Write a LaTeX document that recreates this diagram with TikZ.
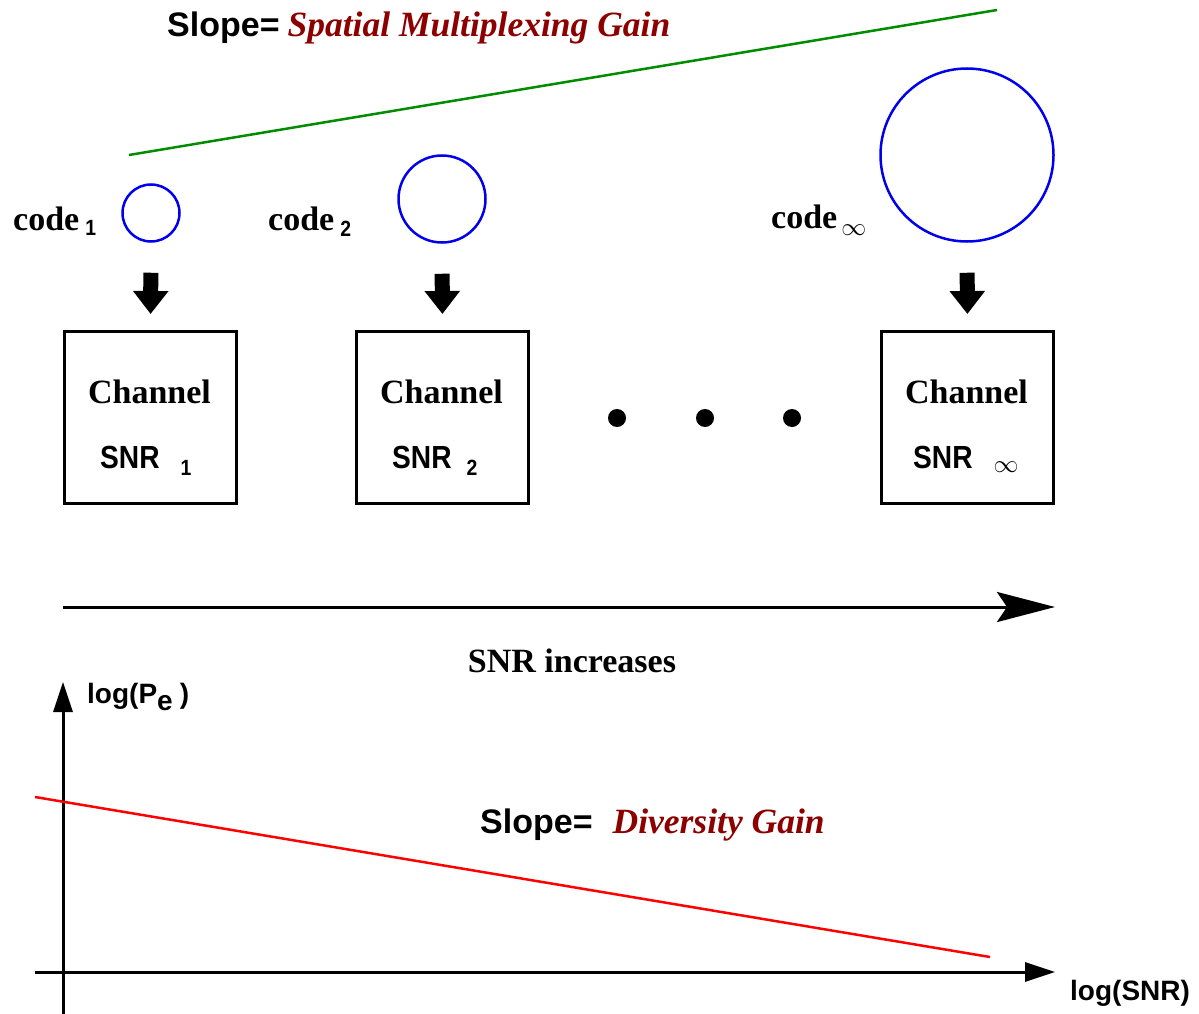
\documentclass[tikz,border=0pt]{standalone}
\usepackage{fontspec}
\setmainfont{Liberation Serif}
\setsansfont{Liberation Sans}
\usepackage{tikz}
\usetikzlibrary{
  positioning,
  arrows.meta,
  calc
}
\usepackage{xcolor}
\definecolor{gain}{RGB}{140,0,0}
\definecolor{codeblue}{RGB}{0,0,235}
\definecolor{slopegreen}{RGB}{0,140,0}
\definecolor{pelow}{RGB}{255,0,0}
\newcommand{\bigrm}{\fontsize{34}{40}\selectfont\rmfamily\bfseries}
\newcommand{\bigit}{\fontsize{35.5}{40}\selectfont\rmfamily\bfseries\itshape\color{gain}}
\newcommand{\bigsf}{\fontsize{34}{40}\selectfont\sffamily\bfseries}
\newcommand{\midsf}{\fontsize{28}{34}\selectfont\sffamily\bfseries}
\newcommand{\snrsf}{\fontsize{32}{38}\selectfont\sffamily\bfseries}
\newcommand{\subsf}{\fontsize{22}{26}\selectfont\sffamily\bfseries}
\newcommand{\infsym}{\fontsize{30}{34}\selectfont$\infty$}
\newcommand{\narrow}[1]{\scalebox{0.88}[1]{#1}}

\begin{document}
\begin{tikzpicture}[
  x=1pt, y=-1pt,
  txt/.style={inner sep=0pt, anchor=base west},
  codecirc/.style={draw=codeblue, line width=2.5pt, circle, inner sep=0pt},
  chanbox/.style={draw, line width=3pt, minimum width=172pt, minimum height=172pt,
                  inner sep=0pt},
  feed/.style={line width=15pt, -{Triangle[length=23pt,width=34pt]},
               shorten <=30pt, shorten >=16pt},
  axisline/.style={line width=3pt, -{Triangle[length=30pt,width=19pt]}},
  dot/.style={circle, fill, minimum size=18pt, inner sep=0pt}
]
  \useasboundingbox (0,0) rectangle (1199,1014);

  % Multiplexing slope
  \coordinate (g0) at (129,155);
  \coordinate (g1) at (997,10);
  \draw[slopegreen, line width=2.5pt] (g0) -- (g1);
  \node[txt, font=\bigsf] (mux) at (167,37)
    {Slope=\hspace{8pt}{\bigit Spatial Multiplexing Gain}};

  % Codes
  \node[codecirc, minimum size=57pt] (c1) at (151,213) {};
  \node[codecirc, minimum size=87pt] (c2) at (442,199) {};
  \node[codecirc, minimum size=173pt] (c3) at (967,155) {};
  \node[txt, font=\bigrm] (l1) at (13,230) {code\hspace{6pt}\raisebox{-5pt}{\subsf\narrow{1}}};
  \node[txt, font=\bigrm] (l2) at (268,230) {code\hspace{6pt}\raisebox{-6pt}{\subsf\narrow{2}}};
  \node[txt, font=\bigrm] (l3) at (771,228) {code\hspace{4pt}\raisebox{-7pt}{\infsym}};

  % Channel boxes
  \node[chanbox] (b1) at (150.5,417.5) {};
  \node[chanbox] (b2) at (442.5,417.5) {};
  \node[chanbox] (b3) at (967.5,417.5) {};
  \node[inner sep=0pt, anchor=base, font=\bigrm] (ch1) at ($(b1.center)+(-1,-14.5)$) {Channel};
  \node[inner sep=0pt, anchor=base, font=\bigrm] (ch2) at ($(b2.center)+(-1,-14.5)$) {Channel};
  \node[inner sep=0pt, anchor=base, font=\bigrm] (ch3) at ($(b3.center)+(-1,-14.5)$) {Channel};
  \node[txt, font=\snrsf] (s1) at ($(b1.center)+(-50.5,50.5)$)
    {\narrow{SNR}\hspace{21pt}\raisebox{-7pt}{\subsf\narrow{1}}};
  \node[txt, font=\snrsf] (s2) at ($(b2.center)+(-50.5,50.5)$)
    {\narrow{SNR}\hspace{15pt}\raisebox{-7pt}{\subsf\narrow{2}}};
  \node[txt, font=\snrsf] (s3) at ($(b3.center)+(-54.5,50.5)$)
    {\narrow{SNR}\hspace{21pt}\raisebox{-4pt}{\infsym}};

  \draw[feed] (c1.south) -- (b1.north);
  \draw[feed] (c2.south) -- (b2.north);
  \draw[feed] (c3.south) -- (b3.north);

  % Dots
  \node[dot] (d1) at (617,418) {};
  \node[dot] (d2) at (705,418) {};
  \node[dot] (d3) at (792,418) {};

  % SNR increases
  \coordinate (snrL) at (63,607);
  \coordinate (snrR) at (1055,607);
  \draw[line width=3pt, -{Stealth[length=58pt,width=30pt,inset=10pt]}] (snrL) -- (snrR);
  \node[inner sep=0pt, anchor=base, font=\bigrm] (incr) at (572,672) {SNR increases};

  % Error probability plot
  \coordinate (ybot) at (63,1014);
  \coordinate (ytop) at (63,682);
  \coordinate (xleft) at (35,972);
  \coordinate (xright) at (1055,972);
  \draw[axisline] (ybot) -- (ytop);
  \draw[axisline] (xleft) -- (xright);
  \node[txt, font=\midsf] (pe) at (87,703) {log(P\raisebox{-7pt}{e}\hspace{7pt})};
  \node[txt, font=\midsf] (lsnr) at (1070,1000) {log(SNR)};

  \coordinate (r0) at (35,797);
  \coordinate (r1) at (990,957);
  \draw[pelow, line width=2.5pt] (r0) -- (r1);
  \node[txt, font=\bigsf] (div) at (480,833)
    {Slope=\hspace{20pt}{\bigit Diversity Gain}};
\end{tikzpicture}
\end{document}
